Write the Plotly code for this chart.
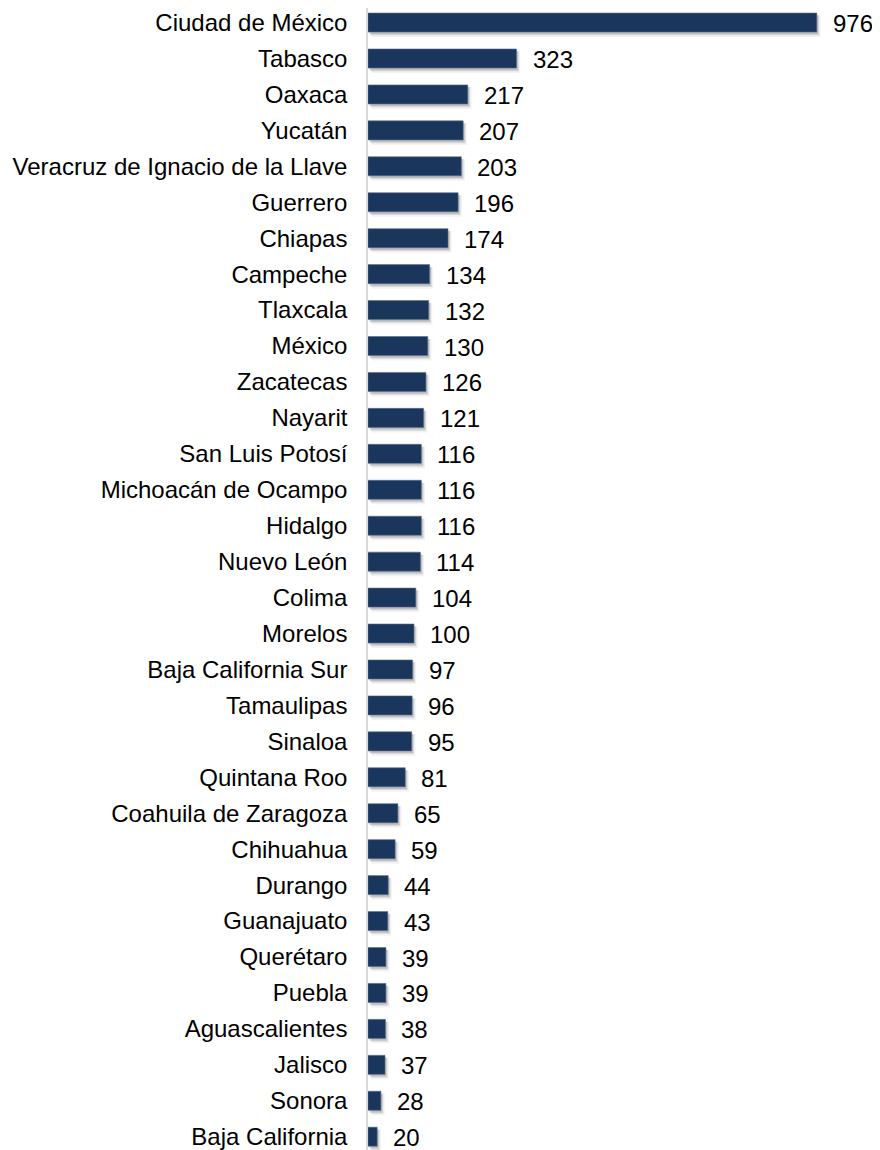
import plotly.graph_objects as go

states = ["Ciudad de México", "Tabasco", "Oaxaca", "Yucatán",
          "Veracruz de Ignacio de la Llave", "Guerrero", "Chiapas", "Campeche",
          "Tlaxcala", "México", "Zacatecas", "Nayarit", "San Luis Potosí",
          "Michoacán de Ocampo", "Hidalgo", "Nuevo León", "Colima", "Morelos",
          "Baja California Sur", "Tamaulipas", "Sinaloa", "Quintana Roo",
          "Coahuila de Zaragoza", "Chihuahua", "Durango", "Guanajuato",
          "Querétaro", "Puebla", "Aguascalientes", "Jalisco", "Sonora",
          "Baja California"]
values = [976, 323, 217, 207, 203, 196, 174, 134, 132, 130, 126, 121, 116,
          116, 116, 114, 104, 100, 97, 96, 95, 81, 65, 59, 44, 43, 39, 39,
          38, 37, 28, 20]

pos = list(range(len(states)))
BAR_W = 0.53
NAVY = "#1B365D"
FONT = "Liberation Sans, Arial"

fig = go.Figure()
# soft drop shadow (layers to fake a blur)
fig.add_trace(go.Bar(
    y=pos, x=values, base=8, orientation="h", width=BAR_W + 0.08,
    offset=-(BAR_W) / 2 + 0.06, marker=dict(color="rgba(0,0,0,0.05)", line_width=0),
    hoverinfo="skip", showlegend=False))
fig.add_trace(go.Bar(
    y=pos, x=values, base=5, orientation="h", width=BAR_W + 0.02,
    offset=-(BAR_W) / 2 + 0.07, marker=dict(color="rgba(0,0,0,0.10)", line_width=0),
    hoverinfo="skip", showlegend=False))
fig.add_trace(go.Bar(
    y=pos, x=values, base=3, orientation="h", width=BAR_W,
    offset=-(BAR_W) / 2 + 0.06, marker=dict(color="rgba(0,0,0,0.12)", line_width=0),
    hoverinfo="skip", showlegend=False))
fig.add_trace(go.Bar(
    y=pos, x=values, orientation="h", width=BAR_W,
    marker=dict(color=NAVY, line=dict(color="#5A6E8C", width=0.6)),
    showlegend=False))

for p, v in zip(pos, values):
    fig.add_annotation(x=v, y=p, text=str(v), showarrow=False,
                       xanchor="left", xshift=14, yshift=-1,
                       font=dict(family=FONT, size=24, color="#000000"))

fig.update_layout(
    width=864, height=1142,
    margin=dict(l=360, r=0, t=0, b=0),
    paper_bgcolor="white", plot_bgcolor="white",
    barmode="overlay",
    font=dict(family=FONT, size=24, color="#000000"),
)
fig.update_xaxes(range=[0, 1096], visible=False, showgrid=False, zeroline=False)
fig.update_yaxes(
    range=[31.37, -0.405], tickmode="array", tickvals=pos, ticktext=states,
    showgrid=False, zeroline=False, showline=True, linecolor="#D9D9D9", linewidth=1.5,
    ticks="outside", ticklen=14, tickcolor="rgba(0,0,0,0)", ticklabeloverflow="allow",
    tickfont=dict(family=FONT, size=24, color="#000000"))

fig.write_html("out.html")
